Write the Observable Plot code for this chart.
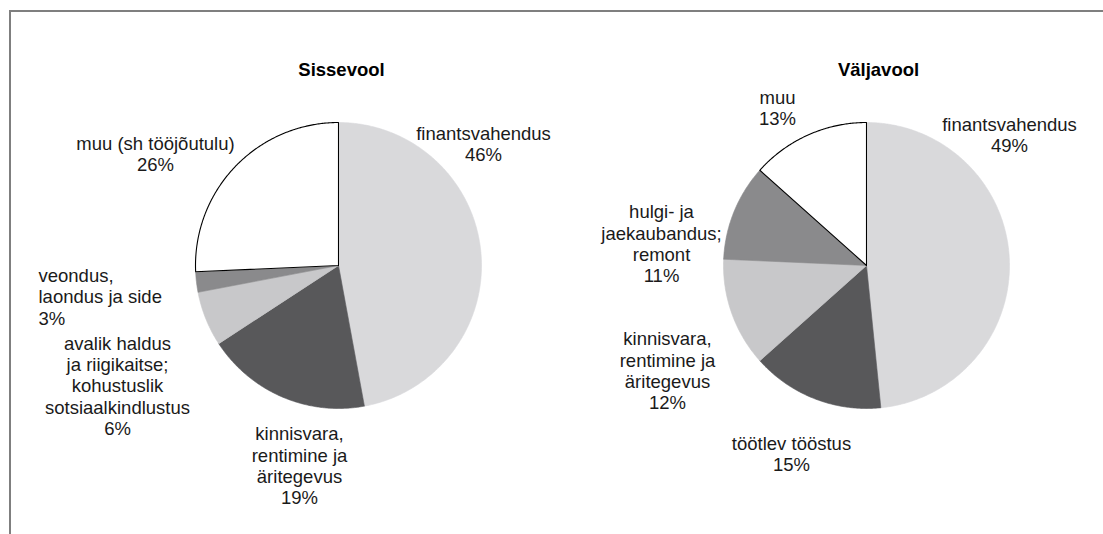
<!DOCTYPE html>
<html>
<head>
<meta charset="utf-8">
<script src="https://cdn.jsdelivr.net/npm/d3@7"></script>
<script src="https://cdn.jsdelivr.net/npm/@observablehq/plot@0.6"></script>
<style>
  body { margin: 0; background: #ffffff; }
  #wrap { position: relative; width: 1103px; height: 534px; overflow: hidden; }
  #frame { position: absolute; left: 9px; top: 10px; width: 1200px; height: 600px;
           border-top: 2px solid #7f7f7f; border-left: 2px solid #7f7f7f; }
  #chart { position: absolute; left: 0; top: 0; }
</style>
</head>
<body>
<div id="wrap"><div id="frame"></div><div id="chart"></div></div>
<script>
// ---- data ----
const pieTitles = ["Sissevool", "Väljavool"];

const inflowSectors = [
  "finantsvahendus",
  "kinnisvara,\nrentimine ja\näritegevus",
  "avalik haldus\nja riigikaitse;\nkohustuslik\nsotsiaalkindlustus",
  "veondus,\nlaondus ja side",
  "muu (sh tööjõutulu)"
];
const inflowShares = [47.1, 18.7, 6.2, 2.3, 25.7];     // slice sizes as drawn
const inflowPercentLabels = ["46%", "19%", "6%", "3%", "26%"];

const outflowSectors = [
  "finantsvahendus",
  "töötlev tööstus",
  "kinnisvara,\nrentimine ja\näritegevus",
  "hulgi- ja\njaekaubandus;\nremont",
  "muu"
];
const outflowShares = [48.4, 15.0, 12.3, 10.9, 13.4];
const outflowPercentLabels = ["49%", "15%", "12%", "11%", "13%"];

// ---- styles / layout (not data) ----
const inflowColors  = ["#d9d9db", "#58585a", "#c8c8ca", "#8a8a8c", "#ffffff"];
const outflowColors = ["#d9d9db", "#58585a", "#c8c8ca", "#8a8a8c", "#ffffff"];
const R = 143;                      // pie radius in px
const CX0 = 338, CY0 = 265;         // first pie centre in px
const pieGap = 528 / R;             // distance between pie centres, in radius units
// label block centres relative to pie centre, in px
const inflowLabelPos  = [[145, -122], [-39, 200], [-221, 120], [-300, 31], [-183, -112]];
const inflowLabelAnchor = ["middle", "middle", "middle", "start", "middle"];
const outflowLabelPos = [[143, -131], [-75, 188], [-199, 105], [-205, -22], [-89, -158]];
const outflowLabelAnchor = ["middle", "middle", "middle", "middle", "middle"];
const titlePos = [[3, -195], [12, -195]];

const pies = [
  {title: pieTitles[0], sectors: inflowSectors, shares: inflowShares, pct: inflowPercentLabels,
   colors: inflowColors, lpos: inflowLabelPos, lanchor: inflowLabelAnchor},
  {title: pieTitles[1], sectors: outflowSectors, shares: outflowShares, pct: outflowPercentLabels,
   colors: outflowColors, lpos: outflowLabelPos, lanchor: outflowLabelAnchor}
];

// build slice outlines from the shares via d3.pie
const slicePoints = [];
const labels = [];
const titles = [];
pies.forEach((p, pi) => {
  const ox = pi * pieGap;
  const arcs = d3.pie().sort(null).value(d => d)(p.shares);
  arcs.forEach((a, si) => {
    const id = `${pi}-${si}`;
    const color = p.colors[si];
    const outline = si === p.shares.length - 1;
    slicePoints.push({id, color, outline, x: ox, y: 0});
    const n = Math.max(2, Math.ceil((a.endAngle - a.startAngle) / (Math.PI / 360)));
    for (let k = 0; k <= n; k++) {
      const t = a.startAngle + (a.endAngle - a.startAngle) * k / n;
      slicePoints.push({id, color, outline, x: ox + Math.sin(t), y: -Math.cos(t)});
    }
    labels.push({
      text: p.sectors[si] + "\n" + p.pct[si],
      x: ox + p.lpos[si][0] / R,
      y: p.lpos[si][1] / R,
      anchor: p.lanchor[si]
    });
  });
  titles.push({text: p.title, x: ox + titlePos[pi][0] / R, y: titlePos[pi][1] / R});
});

const font = "'Liberation Sans', Arial, Helvetica, sans-serif";
const textOpts = (anchor) => ({
  x: "x", y: "y", text: "text", textAnchor: anchor, lineAnchor: "middle",
  lineHeight: 1.15, fontSize: 18.5, fontFamily: font, fill: "#1a1a1a"
});

const chart = Plot.plot({
  width: 1103,
  height: 534,
  margin: 0,
  style: {fontFamily: font, background: "transparent"},
  x: {domain: [-CX0 / R, (1103 - CX0) / R], range: [0, 1103], axis: null},
  y: {domain: [-CY0 / R, (534 - CY0) / R], range: [0, 534], axis: null},
  color: {type: "identity"},
  marks: [
    Plot.line(slicePoints, {x: "x", y: "y", z: "id", fill: "color", stroke: "color",
      strokeWidth: 0.6, curve: "linear-closed"}),
    Plot.line(slicePoints.filter(d => d.outline), {x: "x", y: "y", z: "id", fill: "none",
      stroke: "#000000", strokeWidth: 1.1, curve: "linear-closed"}),
    Plot.text(labels.filter(d => d.anchor === "middle"), textOpts("middle")),
    Plot.text(labels.filter(d => d.anchor === "start"), textOpts("start")),
    Plot.text(titles, {x: "x", y: "y", text: "text", textAnchor: "middle", lineAnchor: "middle",
      fontSize: 18.5, fontWeight: "bold", fontFamily: font, fill: "#000000"})
  ]
});
document.getElementById("chart").appendChild(chart);
</script>
</body>
</html>
